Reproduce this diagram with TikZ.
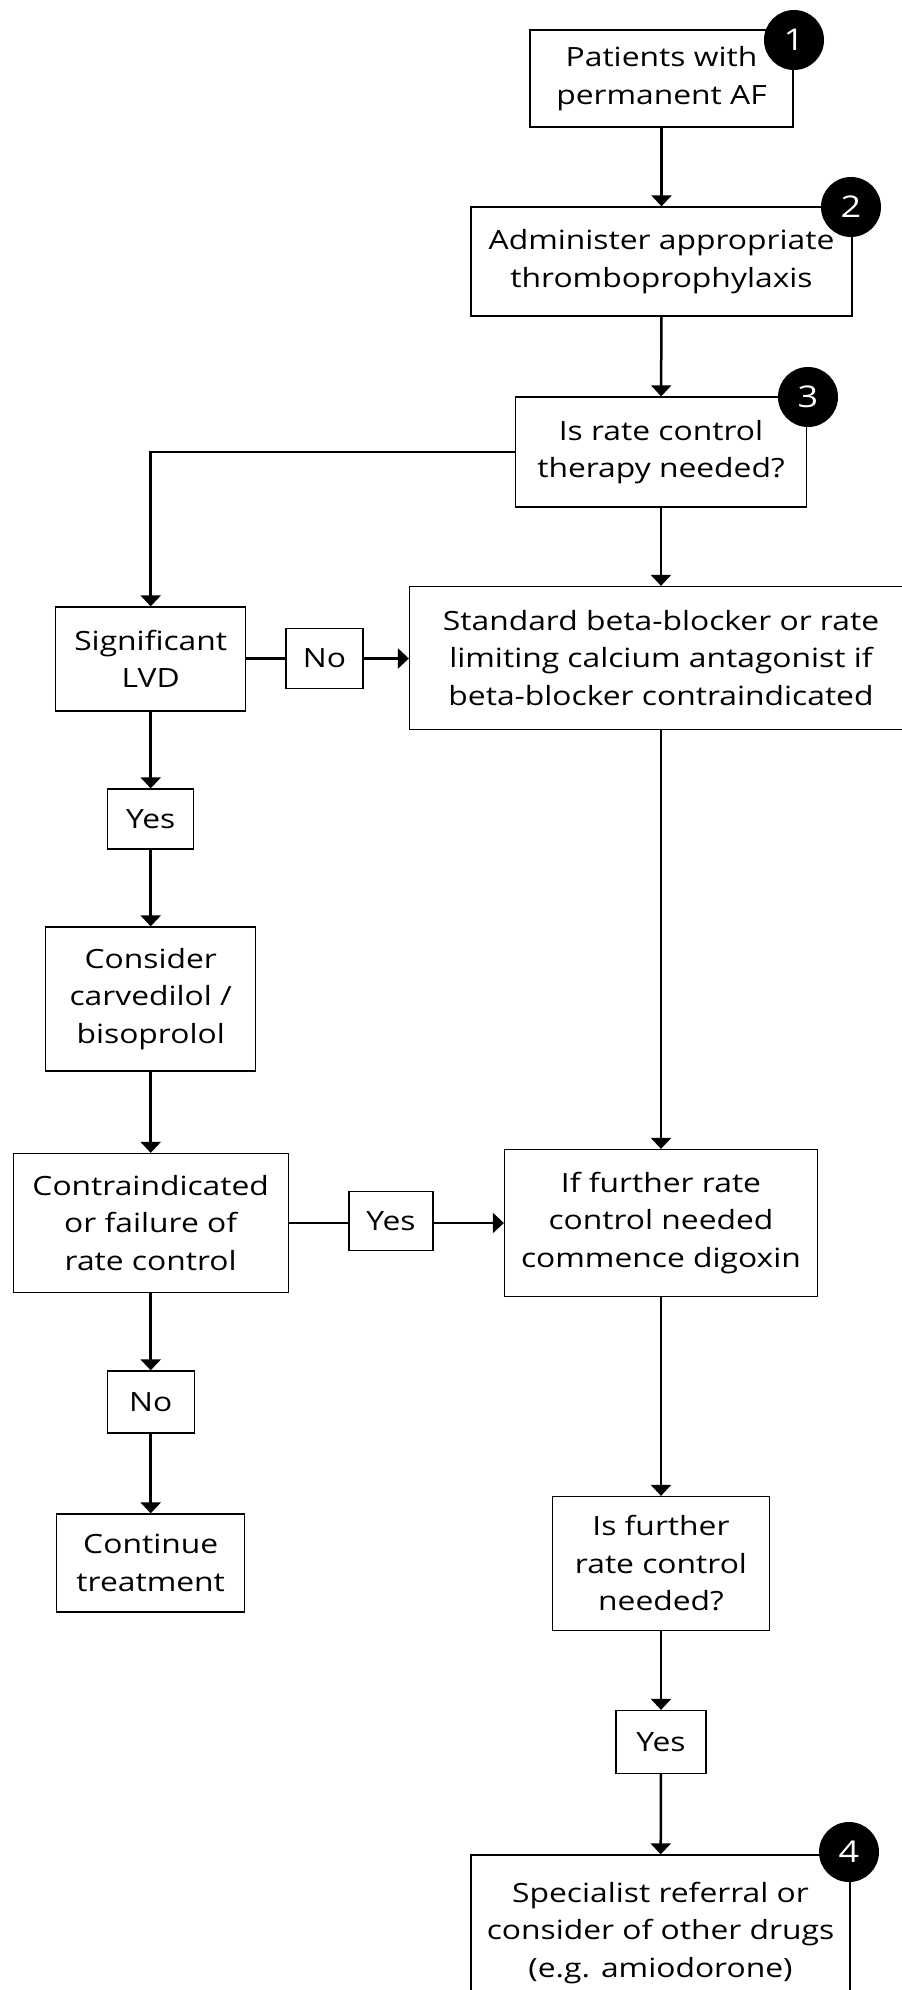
\documentclass[tikz,border=0pt]{standalone}
\usepackage{fontspec}
\setmainfont{Open Sans}[FakeStretch=1.2]
\usetikzlibrary{arrows.meta}
\begin{document}
\begin{tikzpicture}[x=1pt,y=-1pt,
  box/.style={draw=black,line width=1.3pt,align=center,inner sep=0pt,
    font=\fontsize{26.5}{37.5}\selectfont},
  badge/.style={circle,fill=black,text=white,inner sep=0pt,minimum size=60pt,
    font=\fontsize{30}{32}\selectfont},
  link/.style={line width=2.5pt},
  arr/.style={line width=2.5pt,-{Triangle[width=20pt,length=11pt]}}]
\clip (0,0) rectangle (902,1990);
\fill[white] (0,0) rectangle (902,1990);

% right-hand main column
\node[box,minimum width=263pt,minimum height=97pt] (start) at (661.5,78.5)
  {Patients with\\permanent AF};
\node[box,minimum width=381pt,minimum height=109pt] (thrombo) at (661.5,261.5)
  {Administer appropriate\\thromboprophylaxis};
\node[box,minimum width=291pt,minimum height=110pt] (needed) at (661,452)
  {Is rate control\\therapy needed?};
\node[box,minimum width=503pt,minimum height=143pt] (standard) at (661,658)
  {Standard beta-blocker or rate\\limiting calcium antagonist if\\beta-blocker contraindicated};
\node[box,minimum width=313pt,minimum height=147pt] (digoxin) at (661,1223)
  {If further rate\\control needed\\commence digoxin};
\node[box,minimum width=217pt,minimum height=134pt] (further) at (661,1563.5)
  {Is further\\rate control\\needed?};
\node[box,minimum width=90pt,minimum height=63pt] (yesc) at (661,1742)
  {Yes};
\node[box,minimum width=379pt,minimum height=156pt] (referral) at (660.5,1933)
  {Specialist referral or\\consider of other drugs\\(e.g. amiodorone)};

% left-hand column
\node[box,minimum width=190pt,minimum height=104pt] (lvd) at (150.7,659)
  {Significant\\LVD};
\node[box,minimum width=77pt,minimum height=60pt] (noa) at (324.5,658.5)
  {No};
\node[box,minimum width=86pt,minimum height=60pt] (yesa) at (150.7,819)
  {Yes};
\node[box,minimum width=210pt,minimum height=144pt] (carv) at (150.7,999)
  {Consider\\carvedilol /\\bisoprolol};
\node[box,minimum width=275pt,minimum height=139pt] (contra) at (150.7,1223)
  {Contraindicated\\or failure of\\rate control};
\node[box,minimum width=84pt,minimum height=59pt] (yesb) at (391,1221)
  {Yes};
\node[box,minimum width=87pt,minimum height=62pt] (nob) at (150.7,1402)
  {No};
\node[box,minimum width=188pt,minimum height=98pt] (cont) at (150.7,1563)
  {Continue\\treatment};

% connectors
\draw[arr] (start) -- (thrombo);
\draw[arr] (thrombo) -- (needed);
\draw[arr] (needed) -- (standard);
\draw[arr] (needed.west) -| (lvd.north);
\draw[link] (noa.west -| lvd.east) -- (noa.west);
\draw[arr] (noa.east) -- (noa.east -| standard.west);
\draw[arr] (lvd) -- (yesa);
\draw[arr] (yesa) -- (carv);
\draw[arr] (carv) -- (contra);
\draw[link] (contra.east) -- (contra.east -| yesb.west);
\draw[arr] (contra.east -| yesb.east) -- (contra.east -| digoxin.west);
\draw[arr] (contra) -- (nob);
\draw[arr] (nob) -- (cont);
\draw[arr] (standard) -- (digoxin);
\draw[arr] (digoxin) -- (further);
\draw[arr] (further) -- (yesc);
\draw[arr] (yesc) -- (referral);

% step badges
\node[badge] (b1) at (794,40) {1};
\node[badge] (b2) at (851,207) {2};
\node[badge] (b3) at (808,397) {3};
\node[badge] (b4) at (849,1852) {4};
\end{tikzpicture}
\end{document}
